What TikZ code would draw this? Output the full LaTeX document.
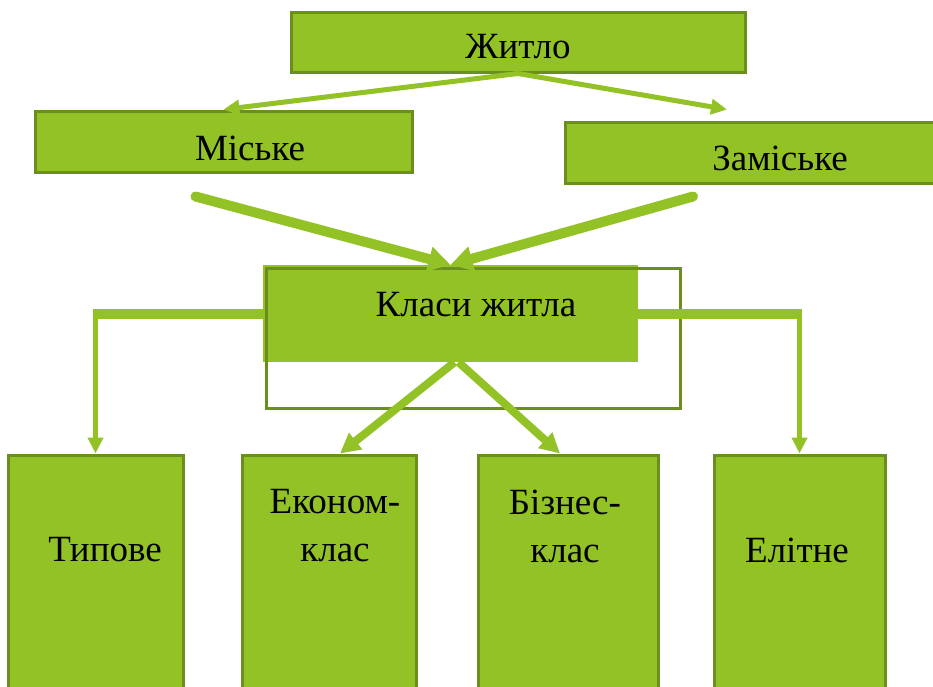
\documentclass[tikz,border=0pt]{standalone}
\usepackage{fontspec}
\setmainfont{Liberation Serif}
\usetikzlibrary{arrows.meta, positioning, calc}
\definecolor{leaf}{RGB}{146, 194, 38}
\definecolor{leafdark}{RGB}{107, 143, 30}

\begin{document}
\begin{tikzpicture}[x=1pt, y=-1pt,
    box/.style={rectangle, draw=leafdark, fill=leaf, line width=3pt, inner sep=0pt},
    txt/.style={font=\fontsize{37}{48}\selectfont, align=center, inner sep=0pt},
    link/.style={draw=leaf, line width=5pt, -{Triangle[length=16pt, width=15pt]}},
    mid/.style={draw=leaf, line width=8pt, -{Triangle[length=20pt, width=20pt]}},
    fat/.style={draw=leaf, line width=10pt, line cap=round, -{Triangle[length=22pt, width=24pt]}}]
    \useasboundingbox (0,0) rectangle (933,686);

    % Top
    \node[box, minimum width=454pt, minimum height=60pt] (zhytlo) at (518,42) {};
    \node[txt] (zhytlo-t) at (518,47) {Житло};

    % Second level
    \node[box, minimum width=377pt, minimum height=61pt] (mis) at (223.5,141.5) {};
    \node[txt] (mis-t) at (250,148) {Міське};
    \node[box, minimum width=380pt, minimum height=61pt] (zam) at (755,152.5) {};
    \node[txt] (zam-t) at (780,158) {Заміське};

    % Classes
    \node[rectangle, fill=leaf, minimum width=375pt, minimum height=97pt] (klasy) at (450.5,313.5) {};
    \node[rectangle, draw=leafdark, line width=3pt, minimum width=414pt, minimum height=140pt] (frame) at (473,338) {};
    \node[txt] (klasy-t) at (476,305) {Класи житла};

    % Bottom row
    \node[box, minimum width=175pt, minimum height=245pt] (typ) at (95.5,577.5) {};
    \node[box, minimum width=174pt, minimum height=245pt] (econ) at (329,577.5) {};
    \node[box, minimum width=180pt, minimum height=245pt] (biz) at (568,577.5) {};
    \node[box, minimum width=171pt, minimum height=245pt] (elit) at (799.5,577.5) {};
    \node[txt] (typ-t) at (105,550) {Типове};
    \node[txt] (econ-t) at (335,526) {Економ-\\клас};
    \node[txt] (biz-t) at (565,526) {Бізнес-\\клас};
    \node[txt] (elit-t) at (797,550) {Елітне};

    % Arrows
    \draw[link] (zhytlo.south) -- (mis.north);
    \draw[link] (zhytlo.south) -- ([xshift=-28pt, yshift=11pt]zam.north);
    \draw[fat] ([xshift=-28pt, yshift=-23pt]mis.south) -- (klasy.north);
    \draw[fat] ([xshift=-62pt, yshift=-12pt]zam.south) -- (klasy.north);

    \draw[leaf, line width=10pt] (klasy.west) -- ([xshift=-2.5pt]klasy.west -| typ.north);
    \draw[link] (klasy.west -| typ.north) -- (typ.north);
    \draw[leaf, line width=10pt] (klasy.east) -- ([xshift=2.5pt]klasy.east -| elit.north);
    \draw[link] (klasy.east -| elit.north) -- (elit.north);

    \draw[mid] ([xshift=4pt]klasy.south) -- ([xshift=11pt]econ.north);
    \draw[mid] ([xshift=8pt]klasy.south) -- ([xshift=-8pt]biz.north);
\end{tikzpicture}
\end{document}
